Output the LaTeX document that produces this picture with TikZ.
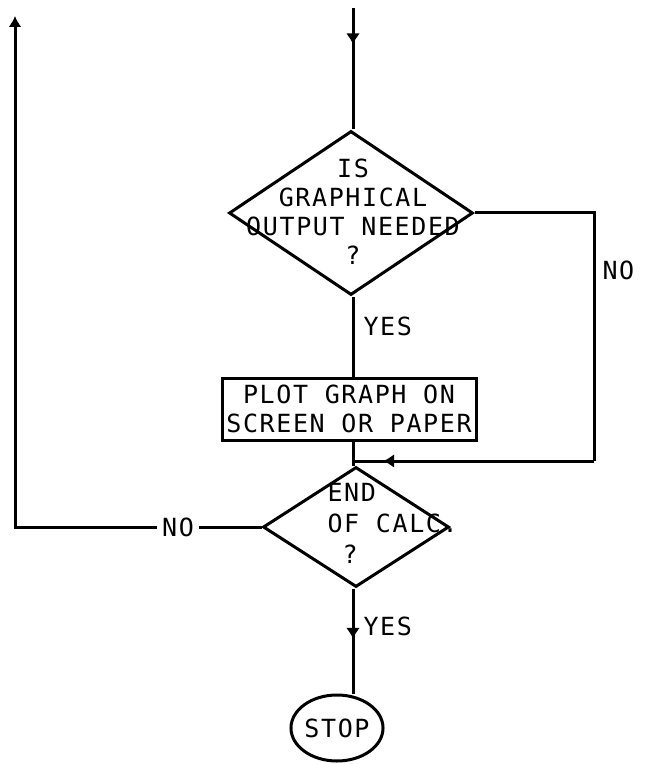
\documentclass[tikz,border=0pt]{standalone}
\usepackage{fontspec}
\newfontfamily\stencil[LetterSpace=6.5]{DejaVu Sans Mono}
\usetikzlibrary{arrows.meta,positioning,shapes.geometric,decorations.markings,calc}

\begin{document}
\begin{tikzpicture}[x=0.5pt, y=-0.5pt, line width=1.5pt,
        lbl/.style={font=\stencil\fontsize{12.5}{14.5}\selectfont, align=center, inner sep=0pt},
        decision/.style={draw, diamond, inner sep=0pt},
        midarrow/.style={postaction={decorate},
            decoration={markings, mark=at position #1 with {\arrow{Latex[length=5.5pt,width=7pt]}}}}]
        \useasboundingbox (0,0) rectangle (644,764);
        % decisions and process box
        \node[decision, minimum width=122pt, minimum height=82pt] (need) at (351,213) {};
        \node[lbl] (needtxt) at (353,212) {IS\\GRAPHICAL\\OUTPUT NEEDED\\?};
        \node[draw, lbl, minimum width=127pt, minimum height=31pt] (plot) at (349,409) {PLOT GRAPH ON\\SCREEN OR PAPER};
        \node[decision, minimum width=93pt, minimum height=60pt] (endc) at (356,527) {};
        \node[lbl, align=left, anchor=west, font=\stencil\fontsize{12.5}{15.5}\selectfont] (endtxt) at (326,524) {END\\OF CALC.\\\phantom{O}?};
        \node[draw, lbl, ellipse, minimum width=44pt, minimum height=33pt] (stop) at (337,728) {STOP};
        % labels
        \node[lbl, anchor=west] (yes1) at (362,326) {YES};
        \node[lbl, anchor=west] (no1) at (601,270) {NO};
        \node[lbl, fill=white, inner sep=2pt] (no2) at (178,527) {NO};
        \node[lbl, anchor=west] (yes2) at (362,626) {YES};
        % helper points
        \coordinate (in) at (353,8);
        \coordinate (merge) at (353,461);
        \coordinate (rcorner) at (594,461);
        \coordinate (back) at (15,16);
        % connectors
        \draw[midarrow=0.3] (in) -- (in |- need.north);
        \draw (need.south -| in) -- (in |- plot.north);
        \draw (in |- plot.south) -- (merge) -- (endc.north -| merge);
        \draw (need.east) -| (rcorner);
        \draw[midarrow=0.875] (rcorner) -- (merge);
        \draw (endc.west) -- (no2.east);
        \draw[-{Latex[length=5.5pt,width=6.5pt]}] (no2.west) -| (back);
        \draw[midarrow=0.48] (endc.south -| merge) -- (merge |- stop.north);
\end{tikzpicture}
\end{document}
